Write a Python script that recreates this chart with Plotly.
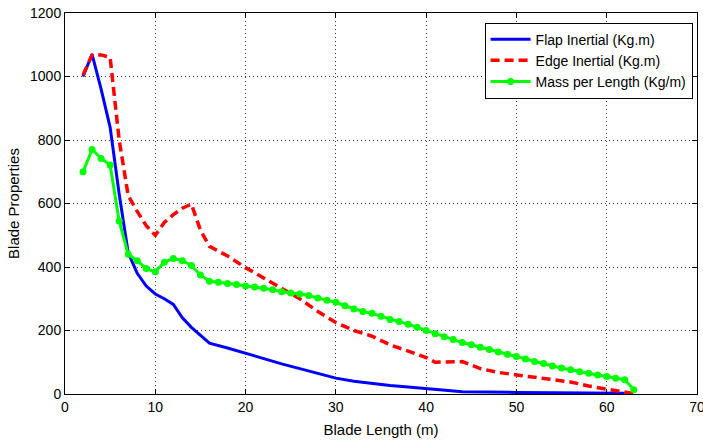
import plotly.graph_objects as go

# Flap inertial
flap_x = [2, 3, 4, 5, 6, 7, 8, 9, 10, 11, 12, 13, 14, 15, 16, 18, 20, 22, 24, 26, 28, 30, 32, 34, 36, 38, 40, 42, 44, 50, 55, 60, 62]
flap_y = [1000, 1070, 960, 840, 630, 445, 380, 340, 315, 300, 282, 240, 210, 185, 160, 145, 128, 112, 95, 80, 65, 50, 40, 33, 27, 22, 17, 11, 7, 5, 4, 3, 2]

# Edge inertial
edge_x = [2, 3, 4, 5, 6, 7, 8, 9, 10, 11, 12, 13, 14, 15, 16, 18, 20, 22, 24, 26, 28, 30, 32, 34, 36, 38, 40, 41, 42, 44, 46, 48, 50, 52, 54, 56, 58, 60, 62, 63]
edge_y = [1005, 1068, 1068, 1060, 800, 625, 575, 530, 500, 540, 565, 585, 598, 516, 465, 435, 398, 365, 330, 300, 260, 225, 200, 182, 155, 135, 115, 100, 100, 102, 80, 68, 60, 52, 45, 38, 25, 15, 5, 1]

# Mass per length
mass_x = list(range(2, 64))
mass_y = [700, 770, 742, 721, 545, 440, 420, 395, 385, 415, 427, 420, 405, 375, 355, 352,
          348, 345, 340, 337, 333, 328, 322, 318, 315, 310, 302, 295, 289, 278, 268, 260,
          254, 245, 235, 228, 220, 210, 200, 190, 180, 172, 162, 155, 147, 140, 132, 125,
          118, 110, 102, 96, 88, 82, 76, 70, 65, 60, 55, 50, 45, 13]

x_ticks = [0, 10, 20, 30, 40, 50, 60, 70]
y_ticks = [0, 200, 400, 600, 800, 1000, 1200]

FONT = "Liberation Sans, Arial, sans-serif"

fig = go.Figure()
fig.add_trace(go.Scatter(x=flap_x, y=flap_y, mode="lines", name="Flap Inertial (Kg.m)",
                         line=dict(color="#0000ff", width=3)))
fig.add_trace(go.Scatter(x=edge_x, y=edge_y, mode="lines", name="Edge Inertial (Kg.m)",
                         line=dict(color="#ff0000", width=3.5, dash="9px,5px")))
fig.add_trace(go.Scatter(x=mass_x, y=mass_y, mode="lines+markers", name="Mass per Length (Kg/m)",
                         line=dict(color="#00ff00", width=3),
                         marker=dict(color="#00ff00", size=7, symbol="circle")))

axis_common = dict(
    showline=True, linecolor="black", linewidth=1, mirror="ticks",
    ticks="inside", ticklen=5, tickcolor="black",
    showgrid=True, gridcolor="#333333", griddash="1px,3px", gridwidth=1,
    zeroline=False, tickfont=dict(family=FONT, size=14, color="black"),
    ticklabeloverflow="allow", automargin=False,
)

fig.update_layout(
    width=703, height=443,
    margin=dict(l=65, r=6, t=13, b=49),
    paper_bgcolor="white", plot_bgcolor="white",
    font=dict(family=FONT, size=14, color="black"),
    xaxis=dict(range=[0, 70], tickvals=x_ticks,
               title=dict(text="Blade Length (m)", font=dict(family=FONT, size=15), standoff=10),
               **axis_common),
    yaxis=dict(range=[0, 1200], tickvals=y_ticks,
               title=dict(text="Blade Properties", font=dict(family=FONT, size=15), standoff=6),
               **axis_common),
    legend=dict(x=0.993, y=0.975, xanchor="right", yanchor="top",
                bgcolor="white", bordercolor="black", borderwidth=1,
                font=dict(family=FONT, size=14), tracegroupgap=0, itemwidth=40),
    showlegend=True,
)

fig.write_html("out.html")
